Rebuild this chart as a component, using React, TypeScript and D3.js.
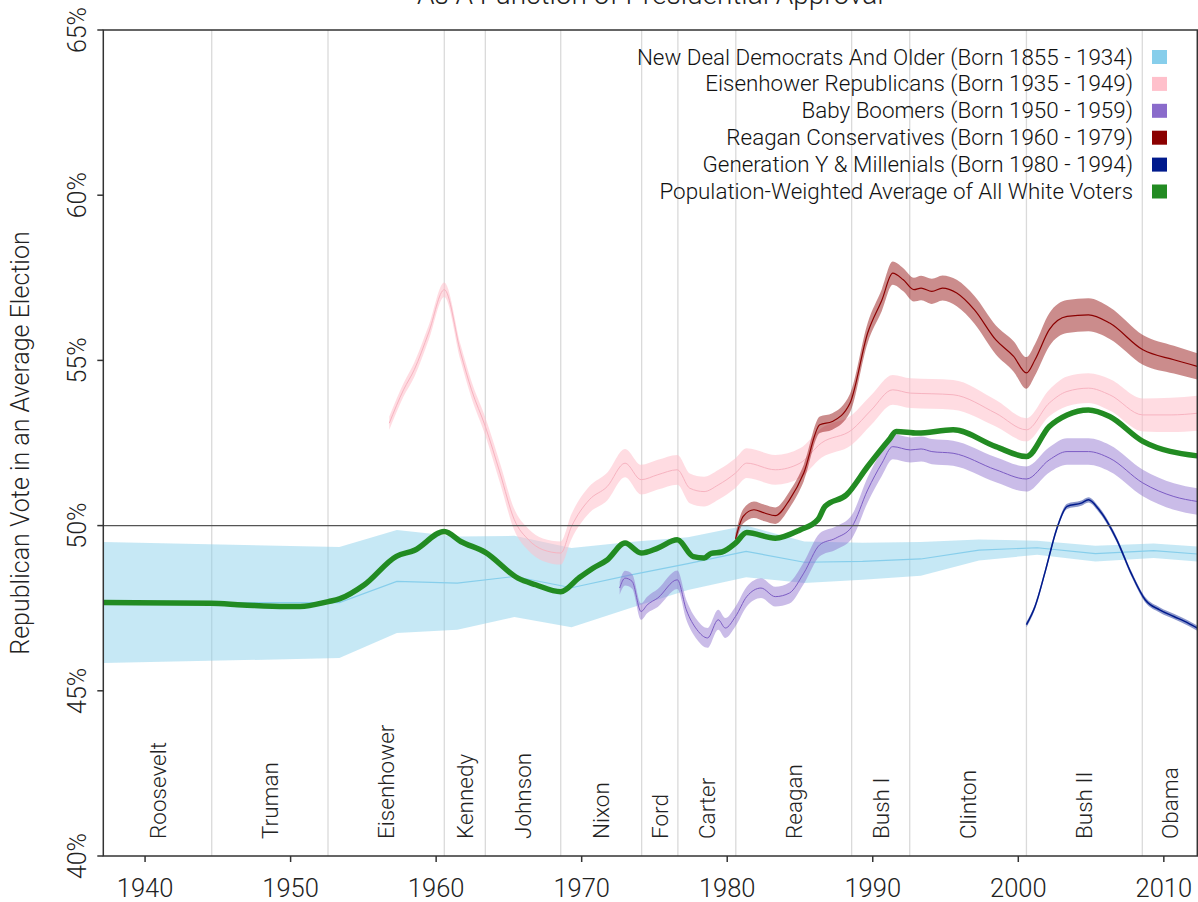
import React from "react";
import * as d3 from "d3";

// [year, estimate, half-width of the band]
type Pt = [number, number, number];

const newDealDemocrats: Pt[] = [
  [1937.13, 47.67, 1.83],
  [1953.35, 47.67, 1.68],
  [1957.3, 48.31, 1.56],
  [1961.45, 48.26, 1.41],
  [1965.37, 48.46, 1.23],
  [1969.3, 48.12, 1.2],
  [1973.3, 48.5, 1.0],
  [1977.3, 48.85, 0.8],
  [1981.3, 49.22, 0.78],
  [1985.3, 48.89, 0.63],
  [1989.3, 48.92, 0.56],
  [1993.3, 48.99, 0.51],
  [1997.3, 49.26, 0.32],
  [2001.3, 49.33, 0.21],
  [2005.3, 49.15, 0.24],
  [2009.3, 49.24, 0.22],
  [2012.3, 49.14, 0.23],
];

const eisenhowerRepublicans: Pt[] = [
  [1956.78, 53.1, 0.2],
  [1957.76, 54.11, 0.2],
  [1958.5, 54.72, 0.22],
  [1959.48, 55.83, 0.22],
  [1960.56, 57.14, 0.22],
  [1961.69, 55.22, 0.24],
  [1962.43, 54.11, 0.25],
  [1963.38, 53.0, 0.27],
  [1964.39, 51.59, 0.3],
  [1965.37, 50.18, 0.32],
  [1966.35, 49.57, 0.33],
  [1967.33, 49.27, 0.34],
  [1968.56, 49.17, 0.35],
  [1969.3, 49.97, 0.38],
  [1970.52, 50.78, 0.4],
  [1971.75, 51.18, 0.42],
  [1972.98, 51.89, 0.43],
  [1974.08, 51.39, 0.45],
  [1975.23, 51.54, 0.45],
  [1976.57, 51.69, 0.45],
  [1977.43, 51.13, 0.45],
  [1978.41, 51.03, 0.45],
  [1979.38, 51.23, 0.45],
  [1980.57, 51.59, 0.45],
  [1981.34, 51.89, 0.45],
  [1983.3, 51.69, 0.45],
  [1985.0, 51.89, 0.45],
  [1986.47, 52.5, 0.45],
  [1988.57, 52.9, 0.45],
  [1989.9, 53.5, 0.45],
  [1991.37, 54.11, 0.45],
  [1992.59, 54.01, 0.45],
  [1994.06, 53.99, 0.45],
  [1995.52, 53.96, 0.45],
  [1998.46, 53.4, 0.4],
  [2000.56, 52.9, 0.35],
  [2002.13, 53.71, 0.4],
  [2003.35, 54.06, 0.45],
  [2004.82, 54.16, 0.45],
  [2006.28, 53.96, 0.48],
  [2008.56, 53.35, 0.5],
  [2010.5, 53.35, 0.52],
  [2012.3, 53.4, 0.53],
];

const babyBoomers: Pt[] = [
  [1972.61, 48.11, 0.2],
  [1972.98, 48.41, 0.22],
  [1973.47, 48.31, 0.22],
  [1974.08, 47.4, 0.25],
  [1974.5, 47.6, 0.25],
  [1975.23, 47.81, 0.27],
  [1976.57, 48.36, 0.28],
  [1977.19, 47.45, 0.3],
  [1977.92, 46.85, 0.3],
  [1978.65, 46.6, 0.3],
  [1979.38, 47.15, 0.3],
  [1979.87, 46.9, 0.3],
  [1980.57, 47.25, 0.3],
  [1981.34, 47.85, 0.3],
  [1982.32, 48.11, 0.3],
  [1983.3, 47.85, 0.3],
  [1984.28, 47.96, 0.32],
  [1985.26, 48.56, 0.33],
  [1986.36, 49.42, 0.35],
  [1987.46, 49.62, 0.35],
  [1988.57, 49.97, 0.36],
  [1989.65, 51.08, 0.38],
  [1990.63, 51.89, 0.38],
  [1991.37, 52.39, 0.38],
  [1992.59, 52.29, 0.38],
  [1993.32, 52.32, 0.38],
  [1994.06, 52.24, 0.38],
  [1995.52, 52.19, 0.38],
  [1998.46, 51.69, 0.38],
  [2000.56, 51.41, 0.38],
  [2002.13, 51.99, 0.38],
  [2003.35, 52.24, 0.4],
  [2004.82, 52.24, 0.4],
  [2006.28, 52.04, 0.4],
  [2008.56, 51.29, 0.4],
  [2010.69, 50.88, 0.4],
  [2012.3, 50.73, 0.4],
];

const reaganConservatives: Pt[] = [
  [1980.57, 49.6, 0.15],
  [1981.1, 50.28, 0.22],
  [1981.84, 50.48, 0.25],
  [1982.57, 50.38, 0.25],
  [1983.3, 50.3, 0.25],
  [1984.28, 50.78, 0.25],
  [1985.26, 51.59, 0.25],
  [1986.36, 53.05, 0.25],
  [1987.22, 53.15, 0.25],
  [1988.44, 53.71, 0.28],
  [1989.65, 55.83, 0.3],
  [1990.63, 56.83, 0.33],
  [1991.37, 57.64, 0.35],
  [1992.1, 57.44, 0.35],
  [1992.83, 57.14, 0.36],
  [1993.32, 57.19, 0.37],
  [1994.06, 57.09, 0.38],
  [1994.79, 57.19, 0.38],
  [1995.77, 57.04, 0.4],
  [1996.99, 56.53, 0.42],
  [1998.46, 55.62, 0.44],
  [1999.68, 55.12, 0.46],
  [2000.56, 54.62, 0.48],
  [2001.15, 55.02, 0.48],
  [2002.13, 55.93, 0.5],
  [2003.35, 56.33, 0.5],
  [2004.82, 56.38, 0.5],
  [2006.28, 56.13, 0.48],
  [2008.56, 55.32, 0.45],
  [2010.69, 55.02, 0.42],
  [2012.3, 54.82, 0.4],
];

const millenials: Pt[] = [
  [2000.56, 47.0, 0.08],
  [2001.15, 47.55, 0.08],
  [2001.88, 48.66, 0.08],
  [2002.62, 49.87, 0.08],
  [2003.35, 50.58, 0.08],
  [2004.33, 50.68, 0.08],
  [2004.82, 50.78, 0.08],
  [2005.55, 50.48, 0.08],
  [2006.77, 49.57, 0.08],
  [2007.75, 48.56, 0.08],
  [2008.73, 47.75, 0.08],
  [2009.71, 47.45, 0.08],
  [2010.69, 47.25, 0.08],
  [2011.67, 47.05, 0.08],
  [2012.3, 46.9, 0.08],
];

const whiteVotersAverage: [number, number][] = [
  [1937.13, 47.67],
  [1944.5, 47.65],
  [1946.7, 47.6],
  [1949.67, 47.55],
  [1950.65, 47.55],
  [1952.6, 47.7],
  [1953.35, 47.78],
  [1955.07, 48.21],
  [1957.27, 49.07],
  [1958.5, 49.25],
  [1960.56, 49.82],
  [1961.69, 49.52],
  [1963.38, 49.19],
  [1965.62, 48.41],
  [1966.84, 48.21],
  [1968.56, 48.0],
  [1969.79, 48.41],
  [1970.77, 48.71],
  [1971.75, 48.96],
  [1972.98, 49.47],
  [1974.08, 49.17],
  [1975.23, 49.32],
  [1976.57, 49.57],
  [1977.67, 49.06],
  [1978.41, 49.02],
  [1978.9, 49.16],
  [1979.63, 49.2],
  [1980.57, 49.47],
  [1981.34, 49.79],
  [1983.3, 49.62],
  [1985.0, 49.87],
  [1986.23, 50.18],
  [1986.72, 50.58],
  [1988.19, 50.93],
  [1989.65, 51.79],
  [1991.12, 52.6],
  [1991.61, 52.85],
  [1993.08, 52.8],
  [1995.52, 52.9],
  [1998.46, 52.39],
  [2000.56, 52.09],
  [2002.13, 53.0],
  [2003.35, 53.35],
  [2004.82, 53.5],
  [2006.28, 53.3],
  [2008.56, 52.55],
  [2012.3, 52.11],
];

const presidents = [
  "Roosevelt", "Truman", "Eisenhower", "Kennedy", "Johnson", "Nixon", "Ford",
  "Carter", "Reagan", "Bush I", "Clinton", "Bush II", "Obama",
];
const termBreaks = [
  1944.58, 1952.57, 1960.56, 1963.38, 1968.56, 1974.12, 1976.61, 1980.59,
  1988.55, 1992.54, 2000.56, 2008.52,
];

const yearTicks = [1940, 1950, 1960, 1970, 1980, 1990, 2000, 2010];
const pctTicks = [40, 45, 50, 55, 60, 65];

const legendLabels = [
  "New Deal Democrats And Older (Born 1855 - 1934)",
  "Eisenhower Republicans (Born 1935 - 1949)",
  "Baby Boomers (Born 1950 - 1959)",
  "Reagan Conservatives (Born 1960 - 1979)",
  "Generation Y & Millenials (Born 1980 - 1994)",
  "Population-Weighted Average of All White Voters",
];
const legendColors = ["#87ceeb", "#ffc0cb", "#8a6bcb", "#8b0000", "#001a8c", "#228b22"];

const W = 1198;
const H = 902;
const left = 103.3;
const right = 1197.3;
const top = 30;
const bottom = 856;
const FONT = "'Helvetica Neue', Roboto, 'Liberation Sans', Arial, sans-serif";

export default function App() {
  const x = d3.scaleLinear().domain([1937.13, 2012.3]).range([left, right]);
  const y = d3.scaleLinear().domain([40, 65]).range([bottom, top]);

  const band = (curve: d3.CurveFactory) =>
    d3
      .area<Pt>()
      .x((d) => x(d[0]))
      .y0((d) => y(d[1] - d[2]))
      .y1((d) => y(d[1] + d[2]))
      .curve(curve);
  const mid = (curve: d3.CurveFactory) =>
    d3
      .line<Pt>()
      .x((d) => x(d[0]))
      .y((d) => y(d[1]))
      .curve(curve);

  const greenLine = d3
    .line<[number, number]>()
    .x((d) => x(d[0]))
    .y((d) => y(d[1]))
    .curve(d3.curveMonotoneX);

  const bands = [
    { data: newDealDemocrats, fill: "#87ceeb", fo: 0.48, stroke: "#87ceeb", sw: 1.2, curve: d3.curveLinear },
    { data: eisenhowerRepublicans, fill: "#ffc0cb", fo: 0.55, stroke: "#f7b3c0", sw: 1, curve: d3.curveMonotoneX },
    { data: babyBoomers, fill: "#8a6bcb", fo: 0.45, stroke: "#7c5cc4", sw: 1, curve: d3.curveMonotoneX },
    { data: reaganConservatives, fill: "#8b0000", fo: 0.45, stroke: "#8b0000", sw: 1.2, curve: d3.curveMonotoneX },
    { data: millenials, fill: "#001a8c", fo: 0.45, stroke: "#001a8c", sw: 1.5, curve: d3.curveMonotoneX },
  ];

  const bounds = [x.domain()[0], ...termBreaks, x.domain()[1]];

  return (
    <svg
      width={W}
      height={H}
      style={{ position: "absolute", left: 0, top: 0, background: "#fff" }}
      fontFamily={FONT}
      fontWeight={300}
    >
      <defs>
        <clipPath id="plot">
          <rect x={left} y={top} width={right - left} height={bottom - top} />
        </clipPath>
      </defs>

      {/* title (second line, cut off at the top as in the source) */}
      <text x={(left + right) / 2} y={4} textAnchor="middle" fontSize={28} fill="#222">
        As A Function of Presidential Approval
      </text>

      {/* presidential term dividers */}
      {termBreaks.map((t) => (
        <line key={t} x1={x(t)} x2={x(t)} y1={top} y2={bottom} stroke="#dadada" strokeWidth={1.3} />
      ))}

      {/* president names */}
      {presidents.map((p, i) => {
        const cx = (x(bounds[i]) + x(bounds[i + 1])) / 2 + 8;
        return (
          <text
            key={p}
            transform={`translate(${cx},839) rotate(-90)`}
            fontSize={22.5}
            fill="#222"
          >
            {p}
          </text>
        );
      })}

      <g clipPath="url(#plot)">
        {bands.map((b, i) => (
          <g key={i}>
            <path d={band(b.curve)(b.data) || ""} fill={b.fill} fillOpacity={b.fo} />
            <path d={mid(b.curve)(b.data) || ""} fill="none" stroke={b.stroke} strokeWidth={b.sw} />
          </g>
        ))}
        <line x1={left} x2={right} y1={y(50)} y2={y(50)} stroke="#555" strokeWidth={1.4} />
        <path
          d={greenLine(whiteVotersAverage) || ""}
          fill="none"
          stroke="#228b22"
          strokeWidth={5.5}
          strokeLinejoin="round"
          strokeLinecap="round"
        />
      </g>

      {/* frame */}
      <rect x={left} y={top} width={right - left} height={bottom - top} fill="none" stroke="#333" strokeWidth={1.5} />

      {/* y ticks */}
      {pctTicks.map((t) => (
        <g key={t}>
          <line x1={left - 6} x2={left} y1={y(t)} y2={y(t)} stroke="#333" strokeWidth={1.5} />
          <text
            transform={`translate(86,${y(t)}) rotate(-90)`}
            textAnchor="middle"
            fontSize={25}
            fill="#222"
          >
            {t}%
          </text>
        </g>
      ))}

      {/* x ticks */}
      {yearTicks.map((t) => (
        <g key={t}>
          <line x1={x(t)} x2={x(t)} y1={bottom} y2={bottom + 6} stroke="#333" strokeWidth={1.5} />
          <text x={x(t)} y={897} textAnchor="middle" fontSize={25.5} fill="#222">
            {t}
          </text>
        </g>
      ))}

      {/* y axis title */}
      <text
        transform={`translate(29,${(top + bottom) / 2}) rotate(-90)`}
        textAnchor="middle"
        fontSize={25}
        fill="#222"
      >
        Republican Vote in an Average Election
      </text>

      {/* legend */}
      {legendLabels.map((l, i) => {
        const cy = 57 + i * 26.9;
        return (
          <g key={l}>
            <text x={1133} y={cy + 7.5} textAnchor="end" fontSize={22.4} fill="#111">
              {l}
            </text>
            <rect x={1152} y={cy - 7} width={15} height={14} fill={legendColors[i]} />
          </g>
        );
      })}
    </svg>
  );
}
